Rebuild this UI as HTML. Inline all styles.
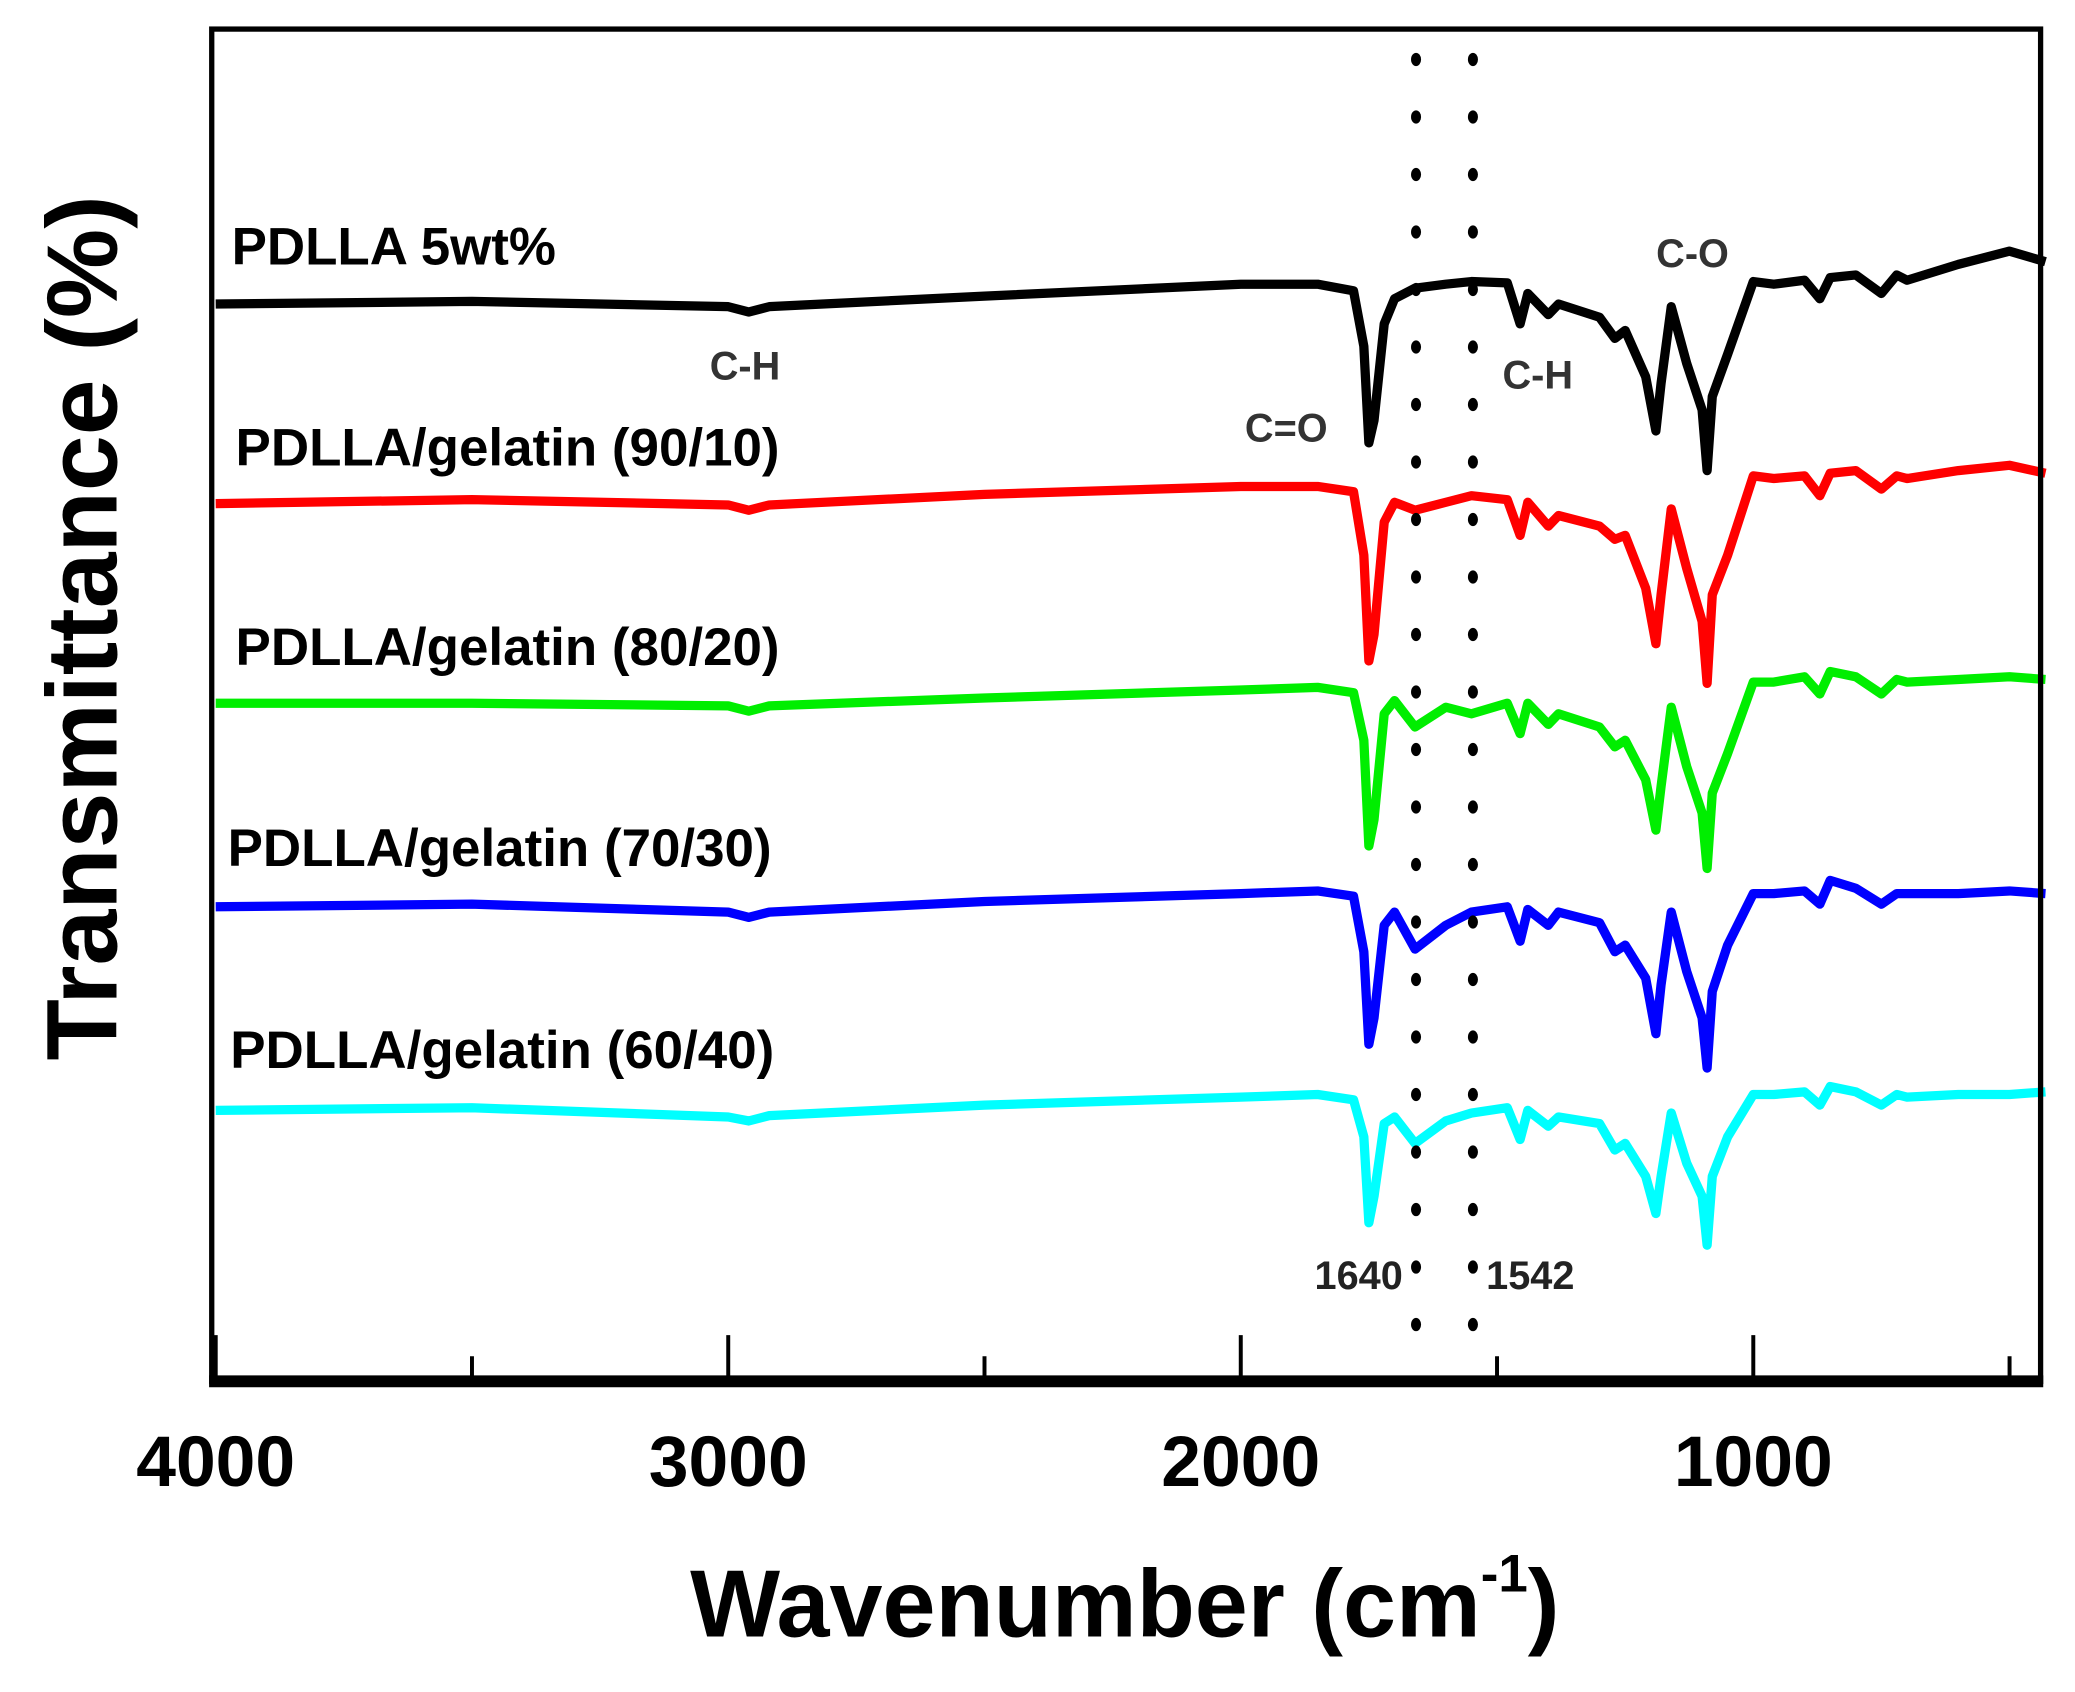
<!DOCTYPE html>
<html><head><meta charset="utf-8"><style>
html,body{margin:0;padding:0;background:#fff;}
svg{display:block;font-family:"Liberation Sans",Arial,sans-serif;}
</style></head><body>
<svg id="chart" width="2075" height="1692" viewBox="0 0 1568 1280" preserveAspectRatio="none" xmlns="http://www.w3.org/2000/svg">
<rect width="1568" height="1280" fill="#fff"/>
<g id="series"></g>
<g id="dots"></g>
<g id="axes"></g>
<g id="labels"></g>
</svg>
<script>
const wavenumbers = [4000,3500,3000,2960,2920,2500,2000,1850,1780,1760,1750,1740,1720,1700,1660,1600,1550,1480,1455,1440,1400,1380,1300,1270,1250,1210,1190,1180,1160,1130,1100,1090,1080,1050,1000,960,900,870,850,800,750,720,700,600,500,430];
const tBlack = [81.5,81.7,81.3,80.9,81.3,82.1,83.0,83.0,82.5,78.3,71.0,72.7,80.0,81.9,82.7,83.0,83.2,83.1,80.0,82.3,80.7,81.5,80.5,78.9,79.5,76.0,71.9,75.5,81.3,77.0,73.5,68.9,74.5,77.7,83.2,83.0,83.3,81.9,83.5,83.7,82.3,83.7,83.3,84.5,85.5,84.7];
const tRed = [66.4,66.7,66.3,65.9,66.3,67.1,67.7,67.7,67.3,62.5,54.5,56.5,65.0,66.5,65.9,66.5,67.0,66.7,64.0,66.5,64.7,65.5,64.7,63.7,64.0,60.0,55.8,59.5,66.0,61.5,57.5,52.8,59.5,62.5,68.5,68.3,68.5,67.0,68.7,68.9,67.5,68.5,68.3,68.9,69.3,68.7];
const tGreen = [51.3,51.3,51.1,50.7,51.1,51.7,52.3,52.5,52.1,48.5,40.5,42.5,50.5,51.5,49.5,51.0,50.5,51.3,49.0,51.3,49.7,50.5,49.5,48.0,48.5,45.5,41.7,45.0,51.0,46.5,43.0,38.8,44.5,47.5,52.9,52.9,53.3,52.0,53.7,53.3,52.0,53.1,52.9,53.1,53.3,53.1];
const tBlue = [35.9,36.1,35.5,35.1,35.5,36.3,36.9,37.1,36.7,32.5,25.5,27.5,34.5,35.5,32.7,34.5,35.5,35.9,33.3,35.7,34.5,35.5,34.7,32.5,33.0,30.5,26.3,30.0,35.5,31.0,27.5,23.7,29.5,33.0,36.9,36.9,37.1,36.1,37.9,37.3,36.1,36.9,36.9,36.9,37.1,36.9];
const tCyan = [20.5,20.7,20.0,19.7,20.1,20.9,21.5,21.7,21.3,18.5,12.0,14.0,19.5,20.0,18.0,19.7,20.3,20.7,18.3,20.5,19.3,20.0,19.5,17.5,18.0,15.5,12.7,15.5,20.3,16.5,14.0,10.3,15.5,18.5,21.7,21.7,21.9,20.9,22.3,21.9,20.9,21.7,21.5,21.7,21.7,21.9];
const seriesNames = ["PDLLA 5wt%","PDLLA/gelatin (90/10)","PDLLA/gelatin (80/20)","PDLLA/gelatin (70/30)","PDLLA/gelatin (60/40)"];
const seriesColors = ["#000000","#ff0000","#00ee00","#0000ff","#00ffff"];
const majorTicks = [4000,3000,2000,1000];
const tickLabels = ["4000","3000","2000","1000"];
const minorTicks = [3500,2500,1500,500];
const markerLines = [1658,1547];
const markerLabels = ["1640","1542"];

const NS="http://www.w3.org/2000/svg";
const X0=163, XK=0.3873, YB=1045, YK=10;
function xs(w){return X0+(4000-w)*XK;}
function ys(t){return YB-t*YK;}
function mk(tag,attrs,parent){const e=document.createElementNS(NS,tag);for(const k in attrs)e.setAttribute(k,attrs[k]);parent.appendChild(e);return e;}
const gS=document.getElementById('series'),gD=document.getElementById('dots'),gA=document.getElementById('axes'),gL=document.getElementById('labels');
const all=[tBlack,tRed,tGreen,tBlue,tCyan];
all.forEach((vals,i)=>{
  const d=vals.map((v,j)=>(j?'L':'M')+xs(wavenumbers[j]).toFixed(1)+' '+ys(v).toFixed(1)).join(' ');
  const p=mk('path',{d:d,fill:'none',stroke:seriesColors[i],'stroke-width':7,'stroke-linejoin':'round'},gS);
  
  
});
markerLines.forEach((w,i)=>{
  for(let y=45;y<=1035;y+=43.5){
    mk('ellipse',{cx:xs(w),cy:y,rx:3.8,ry:5,fill:'#000'},gD);
  }
  const t=mk('text',{x:xs(w)+(i?10:-10),y:975,'font-size':30,'font-weight':'bold','text-anchor':i?'start':'end',fill:'#222'},gL);
  t.textContent=markerLabels[i];
  
  
});
mk('rect',{x:160,y:22,width:1382,height:1023,fill:'none',stroke:'#000','stroke-width':4},gA);
mk('line',{x1:158,y1:1045,x2:1544,y2:1045,stroke:'#000','stroke-width':9},gA);
majorTicks.forEach((w,i)=>{
  mk('line',{x1:xs(w),y1:1045,x2:xs(w),y2:1010,stroke:'#000','stroke-width':3},gA);
  const t=mk('text',{x:xs(w),y:1124,'font-size':54,'font-weight':'bold','text-anchor':'middle'},gA);
  t.textContent=tickLabels[i];
  
  
});
minorTicks.forEach(w=>{mk('line',{x1:xs(w),y1:1045,x2:xs(w),y2:1026,stroke:'#000','stroke-width':3},gA);});
const xt=mk('text',{x:850,y:1238,'font-size':72,'font-weight':'bold','text-anchor':'middle'},gA);
xt.innerHTML='Wavenumber (cm<tspan dy="-34" font-size="40">-1</tspan><tspan dy="34">)</tspan>';


const yt=mk('text',{x:0,y:0,'font-size':76,'font-weight':'bold','text-anchor':'middle',transform:'translate(88,475) rotate(-90)'},gA);
yt.textContent='Transmittance (%)';


const lpos=[[175,200],[178,352],[178,503],[172,655],[174,808]];
seriesNames.forEach((n,i)=>{
  const t=mk('text',{x:lpos[i][0],y:lpos[i][1],'font-size':40,'font-weight':'bold'},gL);
  t.textContent=n;
  
  
});
const ann=[["C-H",563,287],["C=O",972,334],["C-H",1162,294],["C-O",1279,202]];
ann.forEach(a=>{
  const t=mk('text',{x:a[1],y:a[2],'font-size':30,'font-weight':'bold','text-anchor':'middle',fill:'#333'},gL);
  t.textContent=a[0];
  
  
});
</script>
</body></html>
